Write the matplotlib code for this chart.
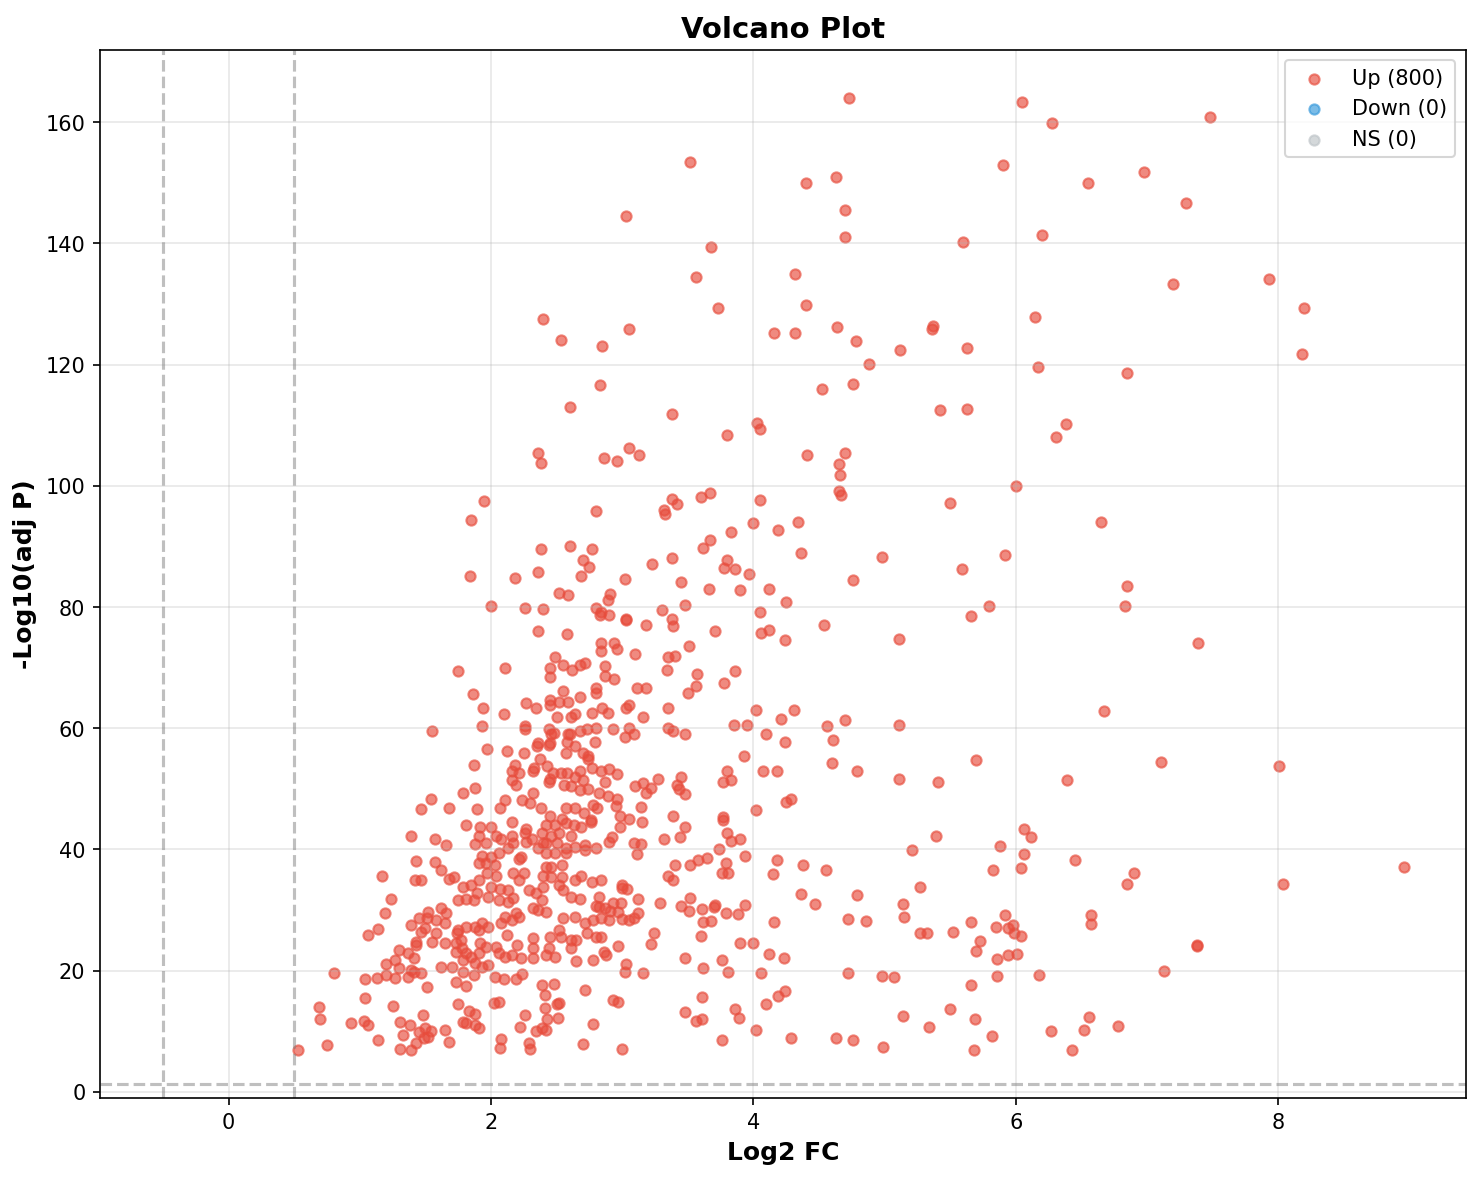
import numpy as np
import matplotlib
matplotlib.use("Agg")
import matplotlib.pyplot as plt

# significant up-regulated points (log2 FC, -log10 adj P)
up_top = [
    (4.73, 164.0), (6.05, 163.4), (6.28, 159.8), (7.48, 160.8), (3.52, 153.5), (5.90, 153.0), (4.63, 151.0),
    (6.98, 151.8), (4.40, 150.0), (6.55, 150.0), (7.30, 146.7), (4.70, 145.5), (3.03, 144.5), (5.60, 140.3),
    (6.20, 141.4), (4.70, 141.0), (3.68, 139.5), (3.56, 134.4), (4.32, 135.0), (7.93, 134.2), (7.20, 133.3),
    (3.73, 129.4), (4.40, 129.8), (8.20, 129.4), (2.40, 127.6), (6.15, 127.9), (3.05, 125.9), (4.16, 125.2),
    (4.32, 125.2), (4.64, 126.3), (5.37, 126.4), (5.36, 125.9), (2.53, 124.1), (4.78, 123.9), (2.85, 123.0),
    (5.63, 122.7), (5.12, 122.4), (8.18, 121.7), (4.88, 120.1), (6.17, 119.6), (6.85, 118.7), (2.83, 116.7),
    (4.76, 116.8), (4.52, 116.0), (2.60, 113.0), (5.42, 112.5), (5.63, 112.7), (3.38, 111.9), (6.38, 110.2),
    (4.03, 110.4), (4.05, 109.4), (3.80, 108.4), (6.31, 108.1), (3.05, 106.2), (3.13, 105.1), (2.36, 105.5),
    (4.41, 105.1), (4.70, 105.4), (2.86, 104.6), (2.96, 104.1), (2.38, 103.8), (4.65, 103.6), (4.66, 101.8),
    (6.00, 100.0), (4.65, 99.2), (4.67, 98.5),
    (3.67, 98.8), (3.38, 97.9), (3.42, 97.0), (3.60, 98.2), (1.95, 97.5), (4.05, 97.7), (5.50, 97.2),
    (2.80, 95.8), (3.32, 96.0), (3.33, 95.4), (1.85, 94.4), (4.00, 93.9), (4.34, 94.1), (6.65, 94.1),
    (3.67, 91.1), (3.62, 89.8), (3.83, 92.4), (4.19, 92.8), (2.60, 90.1), (2.38, 89.6), (2.77, 89.6),
    (4.36, 89.0), (4.98, 88.3), (5.92, 88.6), (3.38, 88.1), (2.70, 87.8), (2.75, 86.6), (3.23, 87.1),
    (3.78, 86.5), (3.86, 86.3), (3.80, 87.8), (3.97, 85.5), (2.36, 85.8), (5.59, 86.3), (1.84, 85.1),
    (2.18, 84.8), (2.69, 85.2), (3.02, 84.6), (3.45, 84.2), (4.76, 84.5), (6.85, 83.5),
]

up_mid_left = [
    (2.52, 82.4), (2.59, 82.0), (2.91, 82.2), (2.89, 81.2), (2.00, 80.1), (2.26, 79.9), (2.40, 79.7),
    (2.80, 79.9), (2.84, 79.2), (2.83, 78.7), (2.90, 78.7), (3.03, 78.1), (3.03, 77.8), (3.18, 77.1),
    (2.36, 76.1), (2.58, 75.6), (2.84, 74.0), (2.84, 72.7), (2.94, 74.0), (2.96, 73.1), (3.10, 72.2),
    (1.75, 69.4), (2.11, 70.0), (2.49, 71.7), (2.45, 70.0), (2.45, 68.4), (2.55, 70.5), (2.62, 69.7),
    (2.68, 70.5), (2.72, 70.8), (2.87, 70.3), (2.87, 68.7), (2.94, 68.2), (3.11, 66.6), (3.18, 66.7),
    (1.86, 65.6), (1.94, 63.4), (2.10, 62.3), (2.27, 64.1), (2.34, 63.3), (2.45, 64.7), (2.45, 63.9),
    (2.52, 64.3), (2.59, 64.4), (2.55, 66.2), (2.68, 65.1), (2.80, 66.6), (2.80, 65.8), (2.50, 61.8),
    (2.61, 61.9), (2.64, 62.4), (2.77, 62.6), (2.85, 63.3), (2.89, 62.6), (3.03, 63.3), (3.05, 63.8),
    (3.16, 61.8), (1.55, 59.5), (1.93, 60.3), (2.26, 60.3), (2.26, 59.8), (2.44, 59.8), (2.48, 59.3),
    (2.46, 59.0), (2.60, 59.1), (2.59, 59.0), (2.68, 59.6), (2.73, 59.8), (2.80, 60.1), (2.93, 59.8),
    (3.05, 60.1), (3.02, 58.5), (3.09, 59.0), (1.97, 56.5), (2.12, 56.2), (2.25, 56.0), (2.35, 57.0),
    (2.36, 57.5), (2.44, 57.2), (2.45, 57.5), (2.58, 57.8), (2.64, 57.0), (2.57, 55.9), (2.70, 55.9),
    (2.74, 55.4), (2.79, 57.8), (1.87, 54.0), (2.37, 54.9), (2.18, 53.9), (2.16, 52.9), (2.21, 52.7),
    (2.32, 53.0), (2.33, 53.5), (2.43, 53.7), (2.47, 52.6), (2.53, 52.6), (2.58, 52.7), (2.68, 53.0),
    (2.74, 55.0), (2.77, 53.4), (2.84, 52.9), (2.90, 53.2), (2.96, 52.4), (2.16, 51.4), (2.19, 50.6),
    (2.44, 51.2), (2.45, 51.7), (2.56, 50.7), (2.61, 50.4), (2.64, 51.9), (2.70, 51.4), (2.68, 49.8),
    (2.74, 49.9), (2.87, 51.2), (2.82, 49.4), (2.89, 48.9), (2.96, 48.3), (3.10, 50.4), (3.16, 50.9),
    (1.54, 48.4), (1.47, 46.6), (1.68, 46.9), (1.79, 49.4), (1.88, 50.1), (1.89, 46.6), (2.07, 46.9),
    (2.11, 48.1), (2.24, 48.1), (2.30, 47.6), (2.32, 49.3), (2.38, 46.8), (2.45, 45.6), (2.54, 45.0),
    (2.57, 46.9), (2.64, 46.8), (2.71, 46.1), (2.78, 47.4), (2.81, 46.8), (2.95, 47.1), (2.98, 45.6),
    (3.05, 45.0), (3.14, 47.0), (1.81, 44.0), (1.92, 43.7), (2.00, 43.7), (2.16, 44.6), (2.27, 43.3),
    (2.76, 44.8), (2.98, 43.7),
]

up_mid_right = [
    (3.66, 83.0), (3.90, 82.9), (4.12, 83.0), (4.25, 80.9), (3.30, 79.6), (3.48, 80.4), (3.38, 78.1),
    (3.39, 76.8), (3.71, 76.1), (4.05, 79.2), (4.06, 75.8), (4.12, 76.3), (4.24, 74.5), (3.51, 73.5),
    (3.35, 71.7), (3.40, 72.0), (3.34, 69.7), (3.57, 69.0), (3.56, 66.9), (3.50, 65.9), (3.78, 67.4),
    (3.86, 69.4), (3.35, 63.4), (3.35, 60.1), (3.39, 59.6), (3.48, 59.1), (3.85, 60.5), (3.95, 60.5),
    (4.02, 63.1), (4.21, 61.6), (4.31, 63.1), (4.10, 59.1), (4.24, 57.7), (3.93, 55.5), (3.27, 51.6),
    (3.45, 52.0), (3.42, 50.7), (3.43, 49.9), (3.48, 49.1), (3.80, 53.0), (3.77, 51.2), (3.83, 51.4),
    (4.07, 52.9), (4.18, 52.9), (4.02, 46.5), (4.25, 47.9), (4.29, 48.3), (3.39, 45.6), (3.77, 45.3),
    (3.77, 44.8), (3.48, 43.7), (3.22, 50.2), (3.18, 49.3), (3.15, 44.5),
    (6.83, 80.1), (5.80, 80.2), (5.66, 78.6), (4.54, 77.1), (5.11, 74.8), (6.67, 62.9), (4.70, 61.3),
    (4.56, 60.3), (5.11, 60.5), (4.61, 58.1), (4.60, 54.2), (4.79, 53.0), (5.11, 51.6), (5.41, 51.1),
    (5.70, 54.7), (6.39, 51.4), (7.39, 74.0), (7.11, 54.5), (8.01, 53.7),
]

up_low_left = [
    (1.39, 42.3), (1.57, 41.8), (1.66, 40.7), (1.91, 42.3), (1.88, 40.9), (1.96, 41.0), (2.04, 42.2),
    (2.08, 41.8), (2.16, 42.3), (2.17, 41.0), (2.13, 40.2), (2.06, 39.5), (2.26, 42.8), (2.31, 41.8),
    (2.27, 41.2), (2.36, 40.2), (2.40, 41.0), (1.43, 38.1), (1.57, 37.9), (1.62, 36.6), (1.17, 35.6),
    (1.42, 34.9), (1.47, 34.9), (1.68, 35.1), (1.72, 35.4), (1.91, 37.7), (1.96, 37.7), (1.93, 39.0),
    (2.00, 38.7), (2.03, 37.4), (1.97, 36.1), (2.04, 35.7), (1.91, 34.9), (2.21, 38.4), (2.23, 38.7),
    (2.17, 36.2), (2.25, 36.1), (2.21, 34.9), (1.79, 33.8), (1.85, 34.1), (1.89, 32.9), (1.75, 31.6),
    (1.81, 31.8), (1.87, 31.6), (2.00, 33.8), (2.07, 33.4), (2.13, 33.3), (1.98, 32.1), (2.06, 31.6),
    (2.13, 31.3), (2.17, 32.0), (2.29, 33.3), (2.34, 32.8), (1.24, 31.8), (1.19, 29.5), (1.14, 26.9),
    (1.06, 25.9), (1.39, 27.5), (1.45, 28.7), (1.52, 29.7), (1.51, 28.7), (1.58, 28.3), (1.62, 30.3),
    (1.66, 29.5), (1.65, 27.8), (1.50, 27.0), (1.47, 26.4), (1.58, 26.2), (1.43, 24.7), (1.43, 24.2),
    (1.55, 24.7), (1.65, 24.5), (1.74, 26.2), (1.75, 26.7), (1.81, 27.2), (1.88, 27.2), (1.93, 27.8),
    (1.91, 26.7), (1.98, 27.2), (2.08, 27.8), (2.11, 28.8), (2.16, 28.3), (2.19, 29.5), (2.21, 28.8),
    (2.32, 30.3), (2.36, 30.0), (1.73, 24.5), (1.77, 25.0), (1.78, 23.7), (1.73, 23.1), (1.81, 22.9),
    (1.85, 22.2), (1.79, 21.7), (1.91, 22.9), (1.92, 24.5), (1.96, 23.9), (1.88, 21.3), (1.93, 20.6),
    (1.98, 20.9), (2.04, 23.9), (2.06, 22.9), (2.11, 22.2), (2.16, 22.6), (2.20, 24.2), (2.23, 22.1),
    (2.32, 25.4), (2.32, 23.7), (2.32, 22.1), (2.12, 25.9), (1.20, 21.1), (1.27, 21.7), (1.30, 23.4),
    (1.37, 22.9), (1.41, 22.1), (1.30, 20.4), (1.39, 20.1), (1.47, 19.6), (1.41, 19.8), (0.80, 19.6),
    (1.04, 18.6), (1.13, 18.8), (1.20, 19.3), (1.27, 18.8), (1.37, 19.0), (1.51, 17.3), (1.62, 20.6),
    (1.70, 20.6), (1.79, 19.8), (1.87, 19.3), (2.03, 18.9), (2.10, 18.6), (2.19, 18.6), (2.24, 19.4),
    (1.73, 18.1), (1.81, 17.5), (1.04, 15.5), (1.25, 14.2), (0.69, 14.0), (0.70, 12.0), (0.93, 11.4),
    (1.03, 11.7), (1.06, 11.0), (1.14, 8.6), (0.75, 7.7), (0.53, 6.9), (1.31, 11.5), (1.38, 11.0),
    (1.48, 12.7), (1.33, 9.4), (1.45, 9.9), (1.50, 10.5), (1.54, 10.0), (1.49, 8.9), (1.52, 9.0),
    (1.43, 8.1), (1.31, 7.1), (1.39, 6.9), (1.65, 10.2), (1.68, 8.2), (1.75, 14.5), (1.83, 13.3),
    (1.88, 12.8), (1.79, 11.5), (1.81, 11.4), (1.88, 11.0), (1.91, 10.5), (2.02, 14.7), (2.06, 14.8),
    (2.08, 8.7), (2.07, 7.2), (2.26, 12.7), (2.22, 10.7), (2.29, 8.1), (2.30, 7.1), (2.34, 10.0),
]

up_low_mid = [
    (2.42, 44.0), (2.49, 44.0), (2.57, 44.3), (2.63, 44.0), (2.69, 43.7), (2.76, 44.5), (2.39, 42.7),
    (2.46, 42.3), (2.52, 42.7), (2.61, 42.3), (2.42, 41.0), (2.50, 41.0), (2.57, 40.2), (2.64, 40.4),
    (2.72, 40.7), (2.80, 40.2), (2.72, 39.9), (2.90, 41.2), (2.92, 42.0), (3.09, 41.0), (3.14, 40.9),
    (3.11, 39.2), (2.42, 39.4), (2.49, 39.4), (2.57, 39.4), (2.42, 37.1), (2.46, 37.1), (2.54, 37.4),
    (2.40, 35.7), (2.46, 35.4), (2.54, 35.4), (2.64, 34.9), (2.69, 35.7), (2.77, 34.6), (2.84, 34.9),
    (2.40, 33.8), (2.52, 34.1), (2.55, 33.3), (2.61, 32.1), (2.68, 31.8), (2.39, 31.6), (2.42, 29.7),
    (3.00, 34.1), (3.00, 33.6), (3.04, 33.4), (3.12, 31.8), (3.12, 29.5), (3.09, 28.7), (3.05, 28.3),
    (3.00, 28.5), (2.82, 32.1), (2.80, 30.6), (2.82, 30.5), (2.87, 30.3), (2.91, 29.8), (2.93, 31.1),
    (2.99, 31.1), (2.97, 29.7), (2.84, 28.7), (2.90, 28.3), (2.78, 28.3), (2.72, 27.8), (2.64, 28.8),
    (2.55, 28.7), (2.73, 26.2), (2.80, 25.5), (2.84, 25.5), (2.45, 25.5), (2.53, 25.5), (2.52, 26.7),
    (2.61, 25.0), (2.65, 25.0), (2.61, 23.7), (2.44, 23.7), (2.42, 22.6), (2.49, 22.2), (2.65, 21.6),
    (2.78, 21.7), (2.86, 23.1), (2.88, 22.6), (2.97, 24.1), (3.03, 21.1), (3.02, 19.8), (3.16, 19.6),
    (2.39, 17.6), (2.48, 17.8), (2.41, 16.0), (2.41, 13.8), (2.52, 14.7), (2.50, 14.5), (2.43, 12.0),
    (2.51, 12.2), (2.39, 10.5), (2.42, 10.2), (2.72, 16.8), (2.93, 15.2), (2.97, 14.8), (2.78, 11.2),
    (2.70, 7.9), (3.00, 7.1),
    (3.32, 41.8), (3.44, 42.0), (3.74, 40.0), (3.80, 42.8), (3.83, 41.4), (3.90, 41.7), (3.94, 38.9),
    (3.40, 37.4), (3.35, 35.7), (3.39, 34.9), (3.52, 37.4), (3.58, 38.2), (3.65, 38.6), (3.79, 37.7),
    (3.76, 36.2), (3.81, 36.2), (4.18, 38.2), (4.38, 37.4), (4.15, 35.9), (4.36, 32.6), (3.29, 31.1),
    (3.45, 30.6), (3.52, 32.0), (3.51, 29.8), (3.61, 30.1), (3.70, 30.5), (3.71, 30.8), (3.79, 29.5),
    (3.88, 29.3), (3.94, 30.8), (4.16, 28.0), (3.62, 28.0), (3.68, 28.2), (3.60, 25.7), (3.24, 26.2),
    (3.22, 24.4), (3.90, 24.5), (4.00, 24.5), (3.48, 22.1), (3.62, 20.4), (3.76, 21.7), (3.81, 19.8),
    (4.12, 22.7), (4.23, 22.1), (4.06, 19.6), (3.61, 15.7), (3.48, 13.2), (3.56, 11.7), (3.61, 12.0),
    (3.86, 13.7), (3.89, 12.2), (4.10, 14.5), (4.19, 15.8), (4.24, 16.6), (4.02, 10.2), (4.29, 8.9),
    (3.76, 8.6),
]

up_low_right = [
    (4.55, 36.6), (4.47, 31.0), (4.79, 32.5), (4.72, 28.5), (4.86, 28.2), (5.21, 39.9), (5.39, 42.2),
    (5.27, 33.8), (5.14, 31.0), (5.15, 28.8), (5.27, 26.2), (5.32, 26.2), (5.52, 26.4), (5.66, 28.0),
    (5.83, 36.6), (5.88, 40.5), (6.06, 43.3), (6.12, 42.0), (6.06, 39.2), (6.04, 36.9), (6.45, 38.2),
    (6.85, 34.3), (6.90, 36.2), (6.57, 29.2), (6.57, 27.7), (5.92, 29.2), (5.85, 27.2), (5.94, 27.0),
    (5.98, 27.5), (5.99, 26.2), (6.04, 25.7), (5.73, 24.9), (5.70, 23.2), (5.86, 21.9), (5.94, 22.6),
    (6.01, 22.7), (5.86, 19.1), (5.66, 17.6), (6.18, 19.3), (4.72, 19.6), (4.98, 19.1), (5.07, 18.9),
    (5.14, 12.5), (5.34, 10.7), (5.50, 13.7), (5.69, 12.0), (5.82, 9.2), (5.68, 6.9), (4.63, 8.9),
    (4.76, 8.6), (4.99, 7.4), (6.27, 10.0), (6.43, 6.9), (6.52, 10.2), (6.56, 12.4), (6.78, 10.9),
    (8.04, 34.3), (8.96, 37.1), (7.38, 24.1), (7.38, 24.3), (7.13, 19.9),
]

down_points = []
ns_points = []

legend_labels = ["Up (800)", "Down (0)", "NS (0)"]
fc_cutoff = 0.5
p_cutoff = -np.log10(0.05)

up = np.array(up_top + up_mid_left + up_mid_right + up_low_left + up_low_mid + up_low_right)
down = np.array(down_points).reshape(-1, 2)
ns = np.array(ns_points).reshape(-1, 2)

fig, ax = plt.subplots(figsize=(9.88, 7.87), dpi=150)

ax.scatter(up[:, 0], up[:, 1], c="#e74c3c", alpha=0.65, s=24, label=legend_labels[0])
ax.scatter(down[:, 0], down[:, 1], c="#3498db", alpha=0.65, s=24, label=legend_labels[1])
ax.scatter(ns[:, 0], ns[:, 1], c="#bdc3c7", alpha=0.65, s=24, label=legend_labels[2])

ax.axhline(p_cutoff, color="gray", linestyle="--", alpha=0.5)
ax.axvline(fc_cutoff, color="gray", linestyle="--", alpha=0.5)
ax.axvline(-fc_cutoff, color="gray", linestyle="--", alpha=0.5)

ax.set_xlim(-0.98, 9.43)
ax.set_ylim(-1.0, 172.0)
ax.set_xlabel("Log2 FC", fontsize=12, fontweight="bold")
ax.set_ylabel("-Log10(adj P)", fontsize=12, fontweight="bold")
ax.set_title("Volcano Plot", fontsize=14, fontweight="bold")
ax.legend(loc="upper right")
ax.grid(True, alpha=0.3)

fig.subplots_adjust(left=0.0675, right=0.989, top=0.9576, bottom=0.0695)
plt.savefig("out.png", dpi=150)
